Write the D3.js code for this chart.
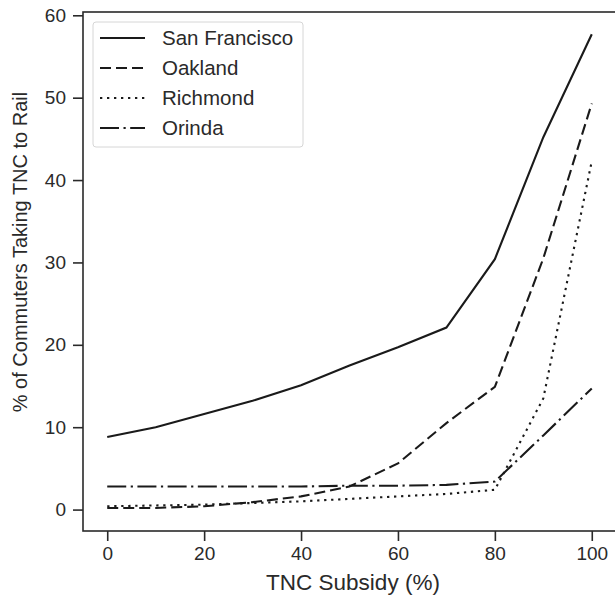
<!DOCTYPE html>
<html><head><meta charset="utf-8">
<script src="https://cdn.jsdelivr.net/npm/d3@7"></script>
<style>body{margin:0;background:#fff;} svg{display:block;}</style>
</head><body>
<svg id="c" width="615" height="603"></svg>
<script>
const subsidy = [0,10,20,30,40,50,60,70,80,90,100];
const sanFrancisco = [8.8,10.0,11.6,13.2,15.1,17.5,19.7,22.1,30.4,45.2,57.7];
const oakland = [0.2,0.2,0.4,0.9,1.6,2.8,5.6,10.5,14.9,30.5,49.3];
const richmond = [0.4,0.5,0.6,0.8,1.0,1.3,1.6,1.9,2.4,13.5,42.3];
const orinda = [2.8,2.8,2.8,2.8,2.8,2.9,2.9,3.0,3.4,9.0,14.7];
const seriesNames = ["San Francisco","Oakland","Richmond","Orinda"];
const xTicks = [0,20,40,60,80,100];
const yTicks = [0,10,20,30,40,50,60];

const seriesData = [sanFrancisco, oakland, richmond, orinda];
const dashes = [null, "11,5", "2.3,4.7", "19,4.5,2.2,4.5"];

const svg = d3.select("#c");
const L = 83, R = 616, T = 12, B = 531;
const x = d3.scaleLinear().domain([-5,105]).range([L,R]);
const y = d3.scaleLinear().domain([-2.6,60.4]).range([B,T]);
const font = "'Liberation Sans', Arial, sans-serif";
const ink = "#2a2a2a";

// lines
const line = d3.line().x((d,i)=>x(subsidy[i])).y(d=>y(d));
seriesData.forEach((s,k)=>{
  svg.append("path").datum(s).attr("d", line)
    .attr("fill","none").attr("stroke","#1a1a1a").attr("stroke-width",2.1)
    .attr("stroke-dasharray", dashes[k]);
});

// spines
svg.append("rect").attr("x",L).attr("y",T).attr("width",R-L).attr("height",B-T)
  .attr("fill","none").attr("stroke",ink).attr("stroke-width",1.6);

// axes
const xa = svg.append("g").attr("transform",`translate(0,${B})`)
  .call(d3.axisBottom(x).tickValues(xTicks).tickSize(10).tickPadding(6).tickFormat(d3.format("d")));
const ya = svg.append("g").attr("transform",`translate(${L},0)`)
  .call(d3.axisLeft(y).tickValues(yTicks).tickSize(10).tickPadding(7).tickFormat(d3.format("d")));
[xa,ya].forEach(a=>{
  a.select(".domain").remove();
  a.selectAll("line").attr("stroke",ink).attr("stroke-width",1.6);
  a.selectAll("text").attr("fill",ink).style("font-family",font).style("font-size","19px");
});

svg.append("text").attr("x",353).attr("y",590).attr("text-anchor","middle")
  .attr("fill",ink).style("font-family",font).style("font-size","22.5px").text("TNC Subsidy (%)");
svg.append("text").attr("transform",`translate(27,252) rotate(-90)`).attr("text-anchor","middle")
  .attr("fill",ink).style("font-family",font).style("font-size","20px").text("% of Commuters Taking TNC to Rail");

// legend
const lg = svg.append("g");
lg.append("rect").attr("x",93).attr("y",22).attr("width",210).attr("height",125).attr("rx",3)
  .attr("fill","#fff").attr("fill-opacity",0.8).attr("stroke","#d6d6d6").attr("stroke-width",1);
seriesNames.forEach((n,k)=>{
  const yy = 38 + k*30;
  lg.append("line").attr("x1",100).attr("x2",145).attr("y1",yy).attr("y2",yy)
    .attr("stroke","#1a1a1a").attr("stroke-width",2.1).attr("stroke-dasharray",dashes[k]);
  lg.append("text").attr("x",162).attr("y",yy+7.3).attr("fill",ink)
    .style("font-family",font).style("font-size","20.5px").text(n);
});
</script>
</body></html>
